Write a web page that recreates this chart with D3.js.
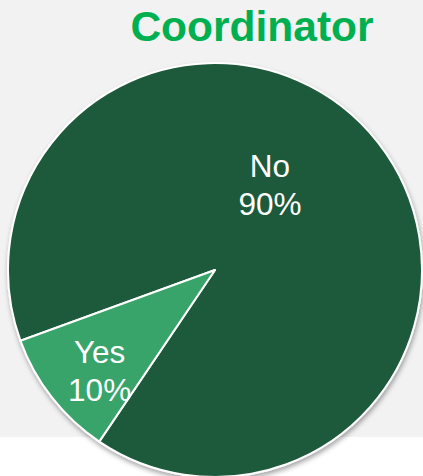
<!DOCTYPE html>
<html>
<head>
<meta charset="utf-8">
<script src="https://cdn.jsdelivr.net/npm/d3@7"></script>
<style>
  html, body { margin: 0; padding: 0; background: #ffffff; }
  svg { display: block; }
</style>
</head>
<body>
<svg id="chart" width="423" height="476"></svg>
<script>
// Coordinator: share of answers
const categories = ["No", "Yes"];
const values = [90, 10];
const percentLabels = ["90%", "10%"];
const colors = ["#1d5a3b", "#38a46b"];
const title = "Coordinator";

const W = 423, H = 476;
const cx = 215, cy = 270, radius = 207;

const svg = d3.select("#chart");

// panel background
svg.append("rect")
  .attr("x", 0).attr("y", 0)
  .attr("width", W).attr("height", 437)
  .attr("fill", "#f2f2f2");

// soft shadow under the pie
const defs = svg.append("defs");
const f = defs.append("filter").attr("id", "pieShadow")
  .attr("x", "-10%").attr("y", "-10%").attr("width", "120%").attr("height", "120%");
f.append("feDropShadow")
  .attr("dx", 1).attr("dy", 3)
  .attr("stdDeviation", 2.5)
  .attr("flood-color", "#000").attr("flood-opacity", 0.35);

svg.append("text")
  .attr("x", 252).attr("y", 41)
  .attr("text-anchor", "middle")
  .attr("font-family", "Liberation Sans, Arial, sans-serif")
  .attr("font-weight", "bold")
  .attr("font-size", 42.5)
  .attr("fill", "#00b050")
  .text(title);

const data = categories.map((c, i) => ({ cat: c, value: values[i], pct: percentLabels[i], color: colors[i] }));

const deg = Math.PI / 180;
const pie = d3.pie()
  .value(d => d.value)
  .sort(null)
  .startAngle(-110 * deg)
  .endAngle(250 * deg);

const arcs = pie(data);
const arc = d3.arc().innerRadius(0).outerRadius(radius);

const g = svg.append("g").attr("transform", `translate(${cx},${cy})`);

g.append("g").attr("filter", "url(#pieShadow)")
  .selectAll("path")
  .data(arcs)
  .join("path")
  .attr("d", arc)
  .attr("fill", d => d.data.color)
  .attr("stroke", "#ffffff")
  .attr("stroke-width", 2)
  .attr("stroke-linejoin", "round");

// label anchor: near the bisector for the small slice, pulled toward the top for the large one
function labelPos(d) {
  let a = (d.startAngle + d.endAngle) / 2 - 3.3 * deg;
  let r = 0.742 * radius;
  if (d.endAngle - d.startAngle > Math.PI) { a = 32.9 * deg; r = 0.489 * radius; }
  return [Math.sin(a) * r, -Math.cos(a) * r];
}

const labels = g.selectAll("text.lbl")
  .data(arcs)
  .join("text")
  .attr("class", "lbl")
  .attr("text-anchor", "middle")
  .attr("font-family", "Liberation Sans, Arial, sans-serif")
  .attr("font-size", 31.5)
  .attr("fill", "#ffffff")
  .attr("transform", d => `translate(${labelPos(d)})`);

labels.append("tspan").attr("x", 0).attr("y", -8).text(d => d.data.cat);
labels.append("tspan").attr("x", 0).attr("y", 30).text(d => d.data.pct);
</script>
</body>
</html>
